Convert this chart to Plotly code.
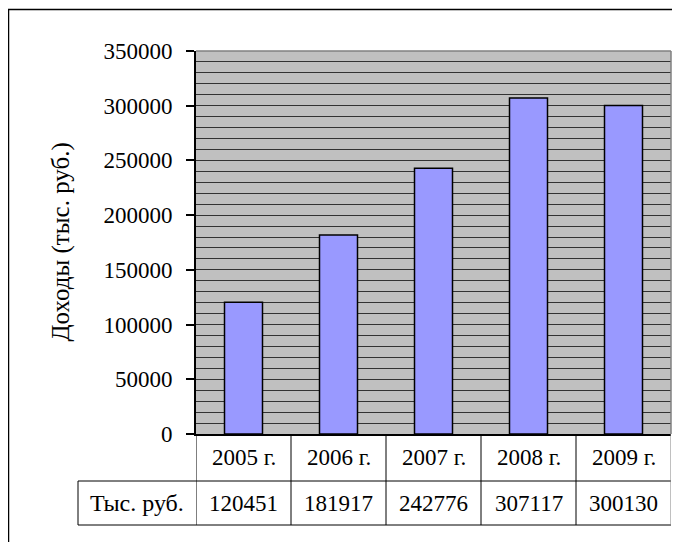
import plotly.graph_objects as go

categories = ["2005 г.", "2006 г.", "2007 г.", "2008 г.", "2009 г."]
values = [120451, 181917, 242776, 307117, 300130]
row_header = "Тыс. руб."
y_title = "Доходы (тыс. руб.)"
y_ticks = [0, 50000, 100000, 150000, 200000, 250000, 300000, 350000]

O = 8  # page body margin offset
W, H = 680 - O, 542 - O
L, R, T, B = 196 - O, 671 - O, 51 - O, 434 - O  # plot area in figure pixels
pw, ph = R - L, B - T

def px(xp):
    return (xp - O - L) / pw

def py(yp):
    return (B - (yp - O)) / ph

FONT = "'Liberation Serif', 'Times New Roman', 'Noto Serif', 'DejaVu Serif', serif"

fig = go.Figure(go.Bar(
    x=list(range(len(categories))),
    y=values,
    marker=dict(color="#9999FF", line=dict(color="black", width=1.5)),
    width=0.4,
))

shapes = []
line_c = "black"
shapes.append(dict(type="line", xref="paper", yref="paper", x0=px(8.5), x1=px(8.5), y0=py(9), y1=py(542), line=dict(color="black", width=1.5)))
shapes.append(dict(type="line", xref="paper", yref="paper", x0=px(8), x1=px(680), y0=py(9.5), y1=py(9.5), line=dict(color="black", width=1.5)))
shapes.append(dict(type="line", xref="paper", yref="paper", x0=0, x1=1, y0=1, y1=1, line=dict(color="#808080", width=1.5)))
shapes.append(dict(type="line", xref="paper", yref="paper", x0=1, x1=1, y0=0, y1=1, line=dict(color="#808080", width=1.5)))

row1_bot = 481
row2_bot = 525
head_left = 78
shapes.append(dict(type="line", xref="paper", yref="paper", x0=px(head_left), x1=1, y0=py(row1_bot), y1=py(row1_bot), line=dict(color=line_c, width=1)))
shapes.append(dict(type="line", xref="paper", yref="paper", x0=px(head_left), x1=1, y0=py(row2_bot), y1=py(row2_bot), line=dict(color=line_c, width=1)))
shapes.append(dict(type="line", xref="paper", yref="paper", x0=px(head_left), x1=px(head_left), y0=py(row1_bot), y1=py(row2_bot), line=dict(color=line_c, width=1)))
for i in range(len(categories) + 1):
    xv = i - 0.5
    col = "#808080" if i == len(categories) else line_c
    shapes.append(dict(type="line", xref="x", yref="paper", x0=xv, x1=xv, y0=0, y1=py(row2_bot), line=dict(color=col, width=1)))

annotations = []
for i, (c, v) in enumerate(zip(categories, values)):
    annotations.append(dict(x=i, xref="x", y=py((434 + row1_bot) / 2), yref="paper", text=c, showarrow=False,
                            font=dict(family=FONT, size=23, color="black"), xanchor="center", yanchor="middle"))
    annotations.append(dict(x=i, xref="x", y=py((row1_bot + row2_bot) / 2), yref="paper", text=str(v), showarrow=False,
                            font=dict(family=FONT, size=23, color="black"), xanchor="center", yanchor="middle"))
annotations.append(dict(x=px((head_left + 196) / 2), xref="paper", y=py((row1_bot + row2_bot) / 2), yref="paper", text=row_header,
                        showarrow=False, font=dict(family=FONT, size=24, color="black"), xanchor="center", yanchor="middle"))
annotations.append(dict(x=px(60), xref="paper", y=0.5, yref="paper", text=y_title, textangle=-90, showarrow=False,
                        font=dict(family=FONT, size=25, color="black"), xanchor="center", yanchor="middle"))

fig.update_layout(
    width=W, height=H,
    margin=dict(l=L, r=W - R, t=T, b=H - B, pad=0),
    paper_bgcolor="white",
    plot_bgcolor="#C0C0C0",
    showlegend=False,
    font=dict(family=FONT),
    shapes=shapes,
    annotations=annotations,
    xaxis=dict(range=[-0.5, len(categories) - 0.5], showticklabels=False, showgrid=False, zeroline=False,
               showline=True, linecolor="black", linewidth=1.5, ticks="", fixedrange=True),
    yaxis=dict(range=[0, 350000], tickvals=y_ticks, ticktext=[str(t) for t in y_ticks],
               tickfont=dict(family=FONT, size=23, color="black"),
               ticks="outside", ticklen=8, tickcolor="black", tickwidth=1.5,
               showline=True, linecolor="black", linewidth=2,
               showgrid=True, gridcolor="#333333", gridwidth=1.2, zeroline=False,
               minor=dict(dtick=10000, showgrid=True, gridcolor="#333333", gridwidth=1.2, ticks=""),
               ticklabelstandoff=9),
)

fig.write_html("out.html")
